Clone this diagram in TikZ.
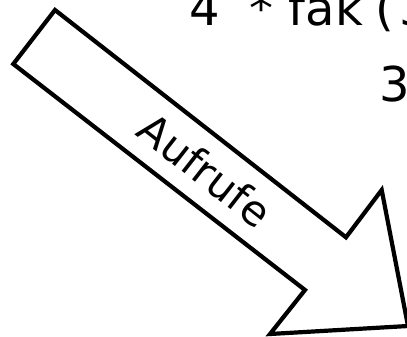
\documentclass[tikz,border=0pt]{standalone}
\usepackage{fontspec}
\setmainfont{DejaVu Sans}
\usetikzlibrary{positioning,calc}

\begin{document}
\begin{tikzpicture}[x=1pt, y=-1pt, every node/.style={inner sep=0pt, font=\fontsize{48}{58}\selectfont}, outline/.style={draw, line width=4.2pt, miter limit=10}]
    \useasboundingbox (0,0) rectangle (407,337);
    \clip (0,0) rectangle (407,337);
    \node [anchor=base west] (call) at (189,26) {4\hspace{29.5pt}*\hspace{15.1pt}fa\kern1pt k\kern12pt(\kern5pt 3};
    \node [anchor=base west] (arg) at (379,102) {3};
    \draw [outline] (55,10) -- (13.3,64) -- (305,290) -- (270,334) -- (408,326) -- (381.7,190) -- (346,237.3) -- cycle;
    \node [rotate=-38, anchor=base, font=\fontsize{42}{50}\selectfont] (label) at (195.5,182.3) {Aufrufe}; % along the arrow
\end{tikzpicture}
\end{document}
